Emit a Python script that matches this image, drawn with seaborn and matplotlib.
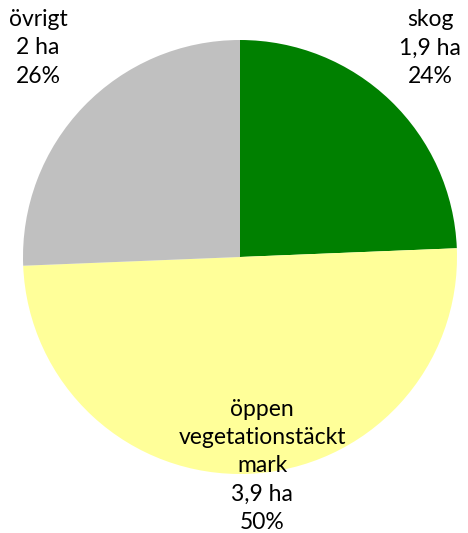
import matplotlib.pyplot as plt
import seaborn as sns

sns.set_theme(style='white')
plt.rcParams['font.family'] = ['Lato', 'DejaVu Sans']

# Area per land type (ha)
categories = ['skog', 'öppen\nvegetationstäckt\nmark', 'övrigt']
hectares = [1.9, 3.9, 2.0]
ha_labels = ['1,9 ha', '3,9 ha', '2 ha']
pct_labels = ['24%', '50%', '26%']
colors = ['#008000', '#FFFF99', '#C0C0C0']

W, H = 468, 533
fig = plt.figure(figsize=(W / 100, H / 100), dpi=100)
# pie centre (240, 257) px, radius 217 px
cx, cy, r = 240, 257, 217
ax = fig.add_axes([(cx - r) / W, (H - cy - r) / H, 2 * r / W, 2 * r / H])
ax.pie(hectares, colors=colors, startangle=90, counterclock=False, radius=1,
       wedgeprops={'linewidth': 0})
ax.set_xlim(-1, 1)
ax.set_ylim(-1, 1)
ax.set_aspect('equal')
ax.axis('off')

# label anchor points in pixel space
label_px = [(430, 48), (262, 466), (38, 48)]
for cat, ha_txt, pct, (px, py) in zip(categories, ha_labels, pct_labels, label_px):
    ax.text((px - cx) / r, (cy - py) / r, f'{cat}\n{ha_txt}\n{pct}',
            ha='center', va='center', fontsize=16.5, linespacing=1.42,
            color='#000000', clip_on=False)

fig.savefig('out.png', dpi=100)
